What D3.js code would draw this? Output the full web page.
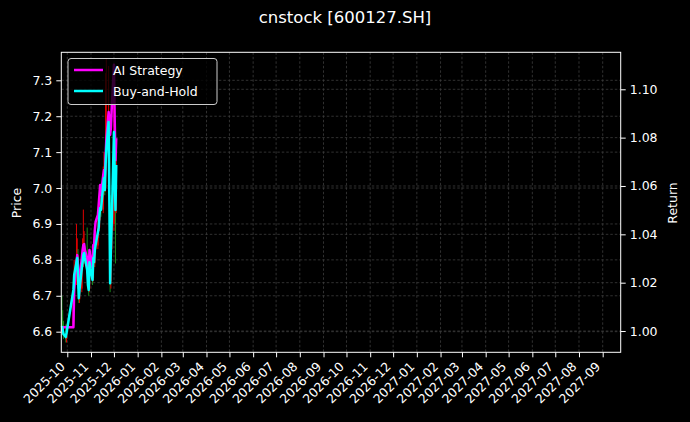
<!DOCTYPE html>
<html><head><meta charset="utf-8">
<script src="https://cdn.jsdelivr.net/npm/d3@7"></script>
<style>
html,body{margin:0;padding:0;background:#000;}
svg{display:block;font-family:"DejaVu Sans",sans-serif;}
</style></head>
<body><svg id="c" width="690" height="422"></svg>
<script>
const dates = ["2025-09-24","2025-09-25","2025-09-26","2025-09-29","2025-09-30","2025-10-09","2025-10-10","2025-10-13","2025-10-14","2025-10-15","2025-10-16","2025-10-17","2025-10-20","2025-10-21","2025-10-22","2025-10-23","2025-10-24","2025-10-27","2025-10-28","2025-10-29","2025-10-30","2025-10-31","2025-11-03","2025-11-04","2025-11-05","2025-11-06","2025-11-07","2025-11-10","2025-11-11","2025-11-12","2025-11-13","2025-11-14","2025-11-17","2025-11-18","2025-11-19","2025-11-20","2025-11-21","2025-11-24","2025-11-25","2025-11-26","2025-11-27","2025-11-28","2025-12-01","2025-12-02","2025-12-03","2025-12-04"];
const openP  = [6.64,6.62,6.60,6.59,6.58,6.62,6.72,6.74,6.80,6.81,6.76,6.69,6.72,6.78,6.79,6.81,6.82,6.80,6.77,6.73,6.72,6.79,6.77,6.75,6.80,6.79,6.83,6.84,6.88,6.89,6.92,6.95,6.94,7.01,7.03,7.00,7.07,7.11,7.18,6.96,6.74,6.83,6.90,7.15,7.04,6.94];
const highP  = [6.70,6.66,6.63,6.62,6.62,6.74,6.80,6.90,6.86,6.83,6.77,6.74,6.80,6.86,6.94,6.88,6.84,6.89,6.78,6.75,6.82,6.81,6.78,6.82,6.83,6.86,6.87,6.92,6.93,6.97,7.00,6.98,7.06,7.10,7.05,7.32,7.36,7.34,7.20,6.98,6.85,6.92,7.30,7.17,7.06,7.10];
const lowP   = [6.60,6.59,6.58,6.57,6.57,6.61,6.70,6.73,6.77,6.74,6.68,6.68,6.71,6.77,6.78,6.79,6.79,6.76,6.72,6.70,6.71,6.76,6.73,6.74,6.78,6.78,6.82,6.83,6.86,6.88,6.91,6.92,6.93,6.99,6.98,6.99,7.05,7.08,6.95,6.71,6.72,6.81,6.88,7.02,6.79,6.93];
const closeP = [6.616,6.605,6.594,6.585,6.596,6.716,6.758,6.794,6.805,6.758,6.694,6.716,6.777,6.794,6.814,6.819,6.805,6.772,6.730,6.716,6.794,6.777,6.744,6.805,6.794,6.828,6.841,6.878,6.889,6.925,6.945,6.939,7.009,7.028,6.995,7.064,7.106,7.184,6.967,6.736,6.828,6.897,7.156,7.036,6.939,7.064];
const aiReturn = [1.0000,1.0016,1.0016,1.0016,1.0016,1.0016,1.0170,1.0285,1.0314,1.0273,1.0178,1.0211,1.0302,1.0335,1.0356,1.0360,1.0335,1.0302,1.0252,1.0227,1.0335,1.0314,1.0260,1.0356,1.0356,1.0418,1.0451,1.0480,1.0521,1.0563,1.0604,1.0563,1.0645,1.0666,1.0633,1.0716,1.0790,1.0906,1.0881,1.0811,1.0840,1.0915,1.1101,1.0873,1.0707,1.0798];
const bhReturn = [1.0021,1.0004,0.9988,0.9975,0.9992,1.0170,1.0232,1.0285,1.0302,1.0232,1.0136,1.0170,1.0260,1.0285,1.0314,1.0323,1.0302,1.0252,1.0190,1.0170,1.0285,1.0260,1.0211,1.0302,1.0285,1.0335,1.0356,1.0409,1.0426,1.0480,1.0509,1.0501,1.0604,1.0633,1.0583,1.0687,1.0749,1.0865,1.0542,1.0198,1.0335,1.0438,1.0823,1.0645,1.0501,1.0687];
const monthTicks = ["2025-10","2025-11","2025-12","2026-01","2026-02","2026-03","2026-04","2026-05","2026-06","2026-07","2026-08","2026-09","2026-10","2026-11","2026-12","2027-01","2027-02","2027-03","2027-04","2027-05","2027-06","2027-07","2027-08","2027-09"];
const priceTicks = [6.6,6.7,6.8,6.9,7.0,7.1,7.2,7.3];
const returnTicks = [1.00,1.02,1.04,1.06,1.08,1.10];
const seriesNames = ["AI Strategy","Buy-and-Hold"];

const parse = d3.utcParse("%Y-%m-%d");
const parseM = d3.utcParse("%Y-%m");
const rows = dates.map((d,i)=>({date:parse(d),o:openP[i],h:highP[i],l:lowP[i],c:closeP[i],ai:aiReturn[i],bh:bhReturn[i]}));

const L=61.3,R=620.7,T=52.3,B=352.3;
const svg=d3.select("#c");
svg.append("rect").attr("width",690).attr("height",422).attr("fill","#000");

const x=d3.scaleUtc().domain([new Date(Date.UTC(2025,8,23,4)),new Date(Date.UTC(2027,8,24,12,45))]).range([L,R]);
const yP=d3.scaleLinear().domain([6.5426,7.378]).range([B,T]);
const yR=d3.scaleLinear().domain([0.9912,1.1153]).range([B,T]);
const mDates=monthTicks.map(parseM);

// grid
const grid=svg.append("g").attr("stroke","#3d3d3d").attr("stroke-width",0.8).attr("stroke-dasharray","2.5,2");
mDates.forEach(d=>grid.append("line").attr("x1",x(d)).attr("x2",x(d)).attr("y1",T).attr("y2",B));
priceTicks.forEach(v=>grid.append("line").attr("x1",L).attr("x2",R).attr("y1",yP(v)).attr("y2",yP(v)));
returnTicks.forEach(v=>grid.append("line").attr("x1",L).attr("x2",R).attr("y1",yR(v)).attr("y2",yR(v)));

// candles
const cg=svg.append("g");
rows.forEach(r=>{
  const col=r.c>=r.o?"#e00000":"#1a8a1a";
  cg.append("line").attr("x1",x(r.date)).attr("x2",x(r.date)).attr("y1",yP(r.h)).attr("y2",yP(r.l)).attr("stroke",col).attr("stroke-width",1);
  const y1=yP(Math.max(r.o,r.c)),y2=yP(Math.min(r.o,r.c));
  cg.append("rect").attr("x",x(r.date)-0.8).attr("width",1.6).attr("y",y1).attr("height",Math.max(0.8,y2-y1)).attr("fill",col);
});

const lineAI=d3.line().x(d=>x(d.date)).y(d=>yR(d.ai));
const lineBH=d3.line().x(d=>x(d.date)).y(d=>yR(d.bh));
svg.append("path").datum(rows).attr("d",lineAI).attr("fill","none").attr("stroke","#ff00ff").attr("stroke-width",2.5).attr("stroke-linejoin","round");
svg.append("path").datum(rows).attr("d",lineBH).attr("fill","none").attr("stroke","#00ffff").attr("stroke-width",2.5).attr("stroke-linejoin","round");

// spines
svg.append("rect").attr("x",L).attr("y",T).attr("width",R-L).attr("height",B-T).attr("fill","none").attr("stroke","#fff").attr("stroke-width",1);

// axes
const axB=svg.append("g").attr("transform",`translate(0,${B})`).call(d3.axisBottom(x).tickValues(mDates).tickSize(5).tickFormat(d3.utcFormat("%Y-%m")));
axB.select(".domain").remove();
axB.selectAll("line").attr("stroke","#fff");
axB.selectAll("text").attr("fill","#fff").attr("font-size","12.5px").attr("font-family","DejaVu Sans")
  .attr("text-anchor","end").attr("dy",null).attr("y",null)
  .attr("transform","translate(-2,15) rotate(-45)");

const axL=svg.append("g").attr("transform",`translate(${L},0)`).call(d3.axisLeft(yP).tickValues(priceTicks).tickSize(5).tickPadding(4).tickFormat(d3.format(".1f")));
axL.select(".domain").remove();
axL.selectAll("line").attr("stroke","#fff");
axL.selectAll("text").attr("fill","#fff").attr("font-size","12.5px").attr("font-family","DejaVu Sans");

const axR=svg.append("g").attr("transform",`translate(${R},0)`).call(d3.axisRight(yR).tickValues(returnTicks).tickSize(5).tickPadding(4).tickFormat(d3.format(".2f")));
axR.select(".domain").remove();
axR.selectAll("line").attr("stroke","#fff");
axR.selectAll("text").attr("fill","#fff").attr("font-size","12.5px").attr("font-family","DejaVu Sans");

// labels
svg.append("text").attr("transform","translate(21,203) rotate(-90)").attr("text-anchor","middle").attr("fill","#fff").attr("font-size","12.5px").text("Price");
svg.append("text").attr("transform","translate(677,203) rotate(-90)").attr("text-anchor","middle").attr("fill","#fff").attr("font-size","12.5px").text("Return");
svg.append("text").attr("x",345).attr("y",23).attr("text-anchor","middle").attr("fill","#fff").attr("font-size","16.5px").text("cnstock [600127.SH]");

// legend
const lg=svg.append("g");
lg.append("rect").attr("x",68).attr("y",58.5).attr("width",149).attr("height",46).attr("rx",3).attr("fill","#000").attr("fill-opacity",0.8).attr("stroke","#cccccc").attr("stroke-width",1);
const lcol=["#ff00ff","#00ffff"];
seriesNames.forEach((n,i)=>{
  const yy=70+i*21;
  lg.append("line").attr("x1",74).attr("x2",103).attr("y1",yy).attr("y2",yy).attr("stroke",lcol[i]).attr("stroke-width",2.5);
  lg.append("text").attr("x",113).attr("y",yy+4.5).attr("fill","#fff").attr("font-size","12.5px").text(n);
});
</script></body></html>
